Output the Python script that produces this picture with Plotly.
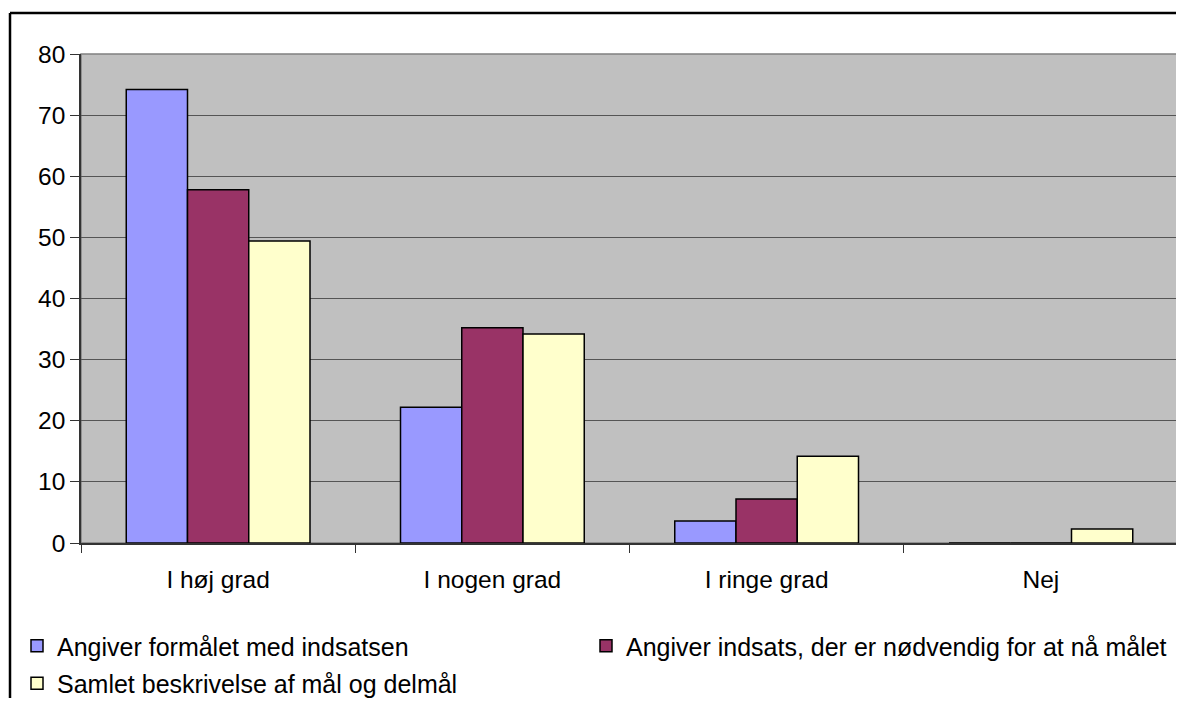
import plotly.graph_objects as go

categories = ["I høj grad", "I nogen grad", "I ringe grad", "Nej"]
series_names = [
    "Angiver formålet med indsatsen",
    "Angiver indsats, der er nødvendig for at nå målet",
    "Samlet beskrivelse af mål og delmål",
]
values_formaal = [74.2, 22.2, 3.6, 0]
values_indsats = [57.8, 35.2, 7.2, 0]
values_samlet = [49.4, 34.2, 14.2, 2.3]
colors = ["#9999FF", "#993366", "#FFFFCC"]
y_ticks = [0, 10, 20, 30, 40, 50, 60, 70, 80]

# the page body adds an 8px offset; figure pixel coordinates below
W, H = 1176, 690
L, R, T, B = 73, 1170, 46, 535

fig = go.Figure()
legends = ["legend", "legend2", "legend"]
for i, (name, vals) in enumerate(zip(series_names, [values_formaal, values_indsats, values_samlet])):
    fig.add_trace(go.Bar(
        x=categories, y=vals, name=name,
        marker=dict(color=colors[i], line=dict(color="#000000", width=1.5)),
        legend=legends[i], legendgroup=f"g{i}",
    ))

FONT = dict(family="Liberation Sans, Arial, sans-serif", size=24.5, color="#000000")
LFONT = dict(family="Liberation Sans, Arial, sans-serif", size=25.0, color="#000000")

fig.update_layout(
    width=W, height=H,
    margin=dict(l=L, r=W - R, t=T, b=H - B, pad=0, autoexpand=False),
    paper_bgcolor="#FFFFFF",
    plot_bgcolor="#C0C0C0",
    font=FONT,
    barmode="group", bargap=0.33, bargroupgap=0,
    showlegend=True,
    legend=dict(
        xref="container", yref="container",
        x=9 / W, y=1 - 615 / H, xanchor="left", yanchor="top",
        orientation="v", tracegroupgap=2, font=LFONT,
        bgcolor="rgba(0,0,0,0)",
    ),
    legend2=dict(
        xref="container", yref="container",
        x=578 / W, y=1 - 615 / H, xanchor="left", yanchor="top",
        orientation="v", font=LFONT,
        bgcolor="rgba(0,0,0,0)",
    ),
    xaxis=dict(
        type="category", tickson="boundaries", ticks="outside", ticklen=8,
        tickcolor="#333333", showline=True, linecolor="#333333", linewidth=1.5,
        showgrid=False, tickfont=FONT, tickangle=0, automargin=False,
        ticklabelstandoff=14,
    ),
    yaxis=dict(
        range=[0, 80], tickvals=y_ticks, ticks="outside", ticklen=9,
        tickcolor="#333333", showline=True, linecolor="#333333", linewidth=1.5,
        gridcolor="#555555", gridwidth=1, zeroline=False, tickfont=FONT,
        automargin=False,
    ),
)

# plot-area border (top / right)
fig.add_shape(type="rect", xref="paper", yref="paper", x0=0, y0=0, x1=1, y1=1,
              line=dict(color="#808080", width=1.5), layer="below")
# outer chart frame: only its top and left edges fall inside the picture
fx0 = (2 - L) / (R - L)
fy1 = (B - 5) / (B - T)
fig.add_shape(type="line", xref="paper", yref="paper",
              x0=fx0, x1=(1200 - L) / (R - L), y0=fy1, y1=fy1,
              line=dict(color="#000000", width=2.5))
fig.add_shape(type="line", xref="paper", yref="paper",
              x0=fx0, x1=fx0, y0=(B - 720) / (B - T), y1=fy1,
              line=dict(color="#000000", width=2.5))

fig.write_html("out.html")
